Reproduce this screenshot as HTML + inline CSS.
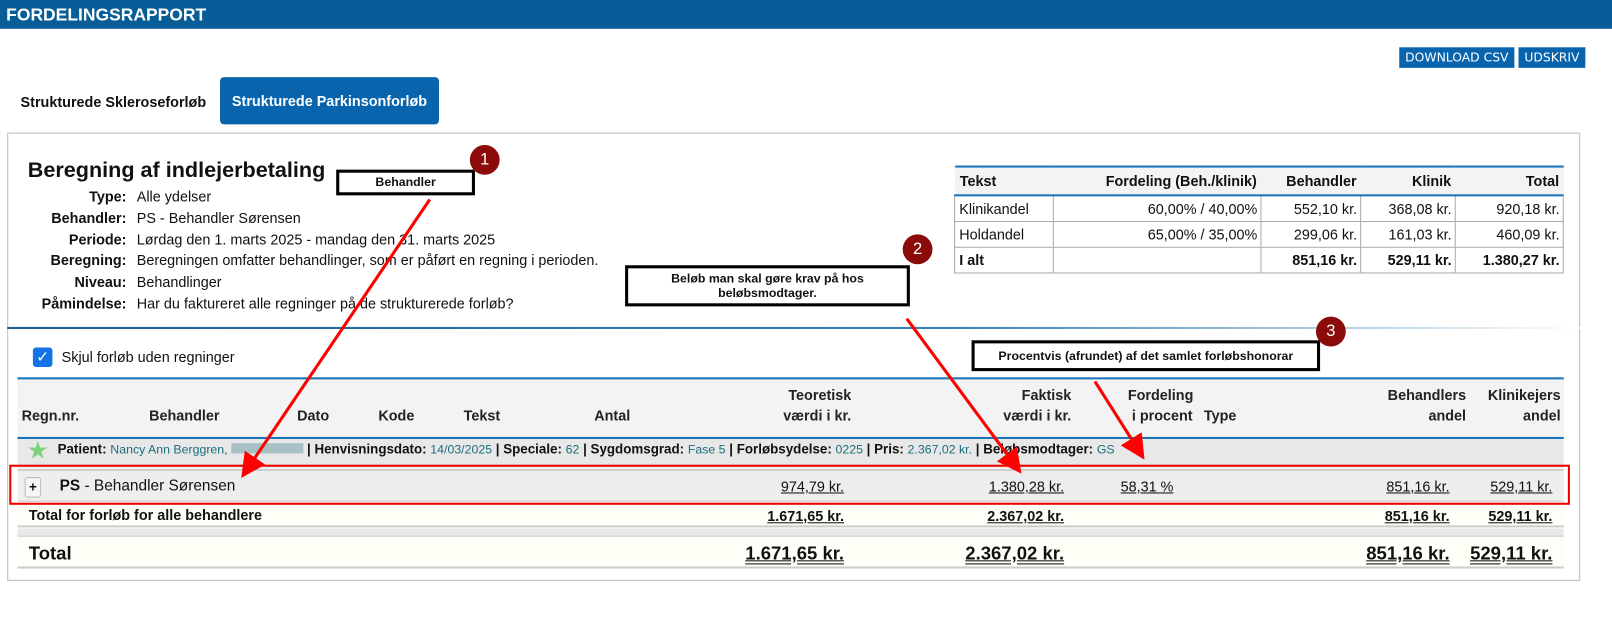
<!DOCTYPE html>
<html><head><meta charset="utf-8"><style>
*{margin:0;padding:0;box-sizing:border-box}
body{width:1612px;height:606px;position:relative;background:#fff;font-family:"Liberation Sans Narrow","Liberation Sans",sans-serif;color:#111;overflow:hidden}
#w{position:absolute;left:0;top:0;width:1612px;height:606px;transform:scale(1.0281);transform-origin:0 0}
.a{position:absolute;white-space:nowrap}
.r{text-align:right}
.b{font-weight:bold}
.u{text-decoration:underline}
.uu{text-decoration:underline double}
.t{color:#1a6e7a}
table{border-collapse:collapse}
</style></head><body><div id="w">
<div class="a" style="left:0;top:0;width:1612px;height:28px;background:#075d97"></div>
<div class="a b" style="left:6px;top:5px;color:#fff;font-size:17px">FORDELINGSRAPPORT</div>
<div class="a" style="left:1361px;top:46px;width:112px;height:20px;background:#0864ac;color:#fff;font-family:'DejaVu Sans',sans-serif;font-size:12px;line-height:20px;text-align:center">DOWNLOAD CSV</div>
<div class="a" style="left:1477px;top:46px;width:65px;height:20px;background:#0864ac;color:#fff;font-family:'DejaVu Sans',sans-serif;font-size:12px;line-height:20px;text-align:center">UDSKRIV</div>
<div class="a b" style="left:20px;top:91px;font-size:14px">Strukturede Skleroseforløb</div>
<div class="a b" style="left:214px;top:75px;width:213px;height:46px;background:#0864ac;border-radius:4px;color:#fff;font-size:14px;line-height:46px;text-align:center">Strukturede Parkinsonforløb</div>
<div class="a" style="left:7px;top:129px;width:1530px;height:436px;border:1px solid #bbb"></div>

<div class="a b" style="left:27px;top:154px;font-size:21px">Beregning af indlejerbetaling</div>
<div class="a r b" style="left:20px;top:181px;width:103px;font-size:14px;line-height:20.8px">Type:<br>Behandler:<br>Periode:<br>Beregning:<br>Niveau:<br>Påmindelse:</div>
<div class="a" style="left:133px;top:181px;font-size:14px;line-height:20.8px">Alle ydelser<br>PS - Behandler Sørensen<br>Lørdag den 1. marts 2025 - mandag den 31. marts 2025<br>Beregningen omfatter behandlinger, som er påført en regning i perioden.<br>Behandlinger<br>Har du faktureret alle regninger på de strukturerede forløb?</div>

<table class="a" style="left:928px;top:161px;width:593px;font-size:14px;border-top:2px solid #1a75bb">
<tr style="background:#f3f3f3;height:28px;border-bottom:2px solid #1a75bb" class="b"><td style="width:96px;padding-left:5px">Tekst</td><td class="r" style="width:202px;padding-right:4px">Fordeling (Beh./klinik)</td><td class="r" style="width:97px;padding-right:4px">Behandler</td><td class="r" style="width:92px;padding-right:4px">Klinik</td><td class="r" style="padding-right:4px">Total</td></tr>
<tr style="height:25px"><td style="border:1px solid #aaa;padding-left:4px">Klinikandel</td><td class="r" style="border:1px solid #aaa;padding-right:3px">60,00% / 40,00%</td><td class="r" style="border:1px solid #aaa;padding-right:3px">552,10 kr.</td><td class="r" style="border:1px solid #aaa;padding-right:3px">368,08 kr.</td><td class="r" style="border:1px solid #aaa;padding-right:3px">920,18 kr.</td></tr>
<tr style="height:25px"><td style="border:1px solid #aaa;padding-left:4px">Holdandel</td><td class="r" style="border:1px solid #aaa;padding-right:3px">65,00% / 35,00%</td><td class="r" style="border:1px solid #aaa;padding-right:3px">299,06 kr.</td><td class="r" style="border:1px solid #aaa;padding-right:3px">161,03 kr.</td><td class="r" style="border:1px solid #aaa;padding-right:3px">460,09 kr.</td></tr>
<tr style="height:25px" class="b"><td style="border:1px solid #aaa;padding-left:4px">I alt</td><td style="border:1px solid #aaa"></td><td class="r" style="border:1px solid #aaa;padding-right:3px">851,16 kr.</td><td class="r" style="border:1px solid #aaa;padding-right:3px">529,11 kr.</td><td class="r" style="border:1px solid #aaa;padding-right:3px">1.380,27 kr.</td></tr>
</table>

<div class="a" style="left:7px;top:318px;width:1530px;height:2px;background:linear-gradient(to right,#1d5f94,#3a80b5 60%,#fff)"></div>
<div class="a" style="left:32px;top:338px;width:19px;height:19px;background:#1473e6;border-radius:3px;color:#fff;font-size:15px;line-height:19px;text-align:center;font-family:'DejaVu Sans',sans-serif">✓</div>
<div class="a" style="left:60px;top:339px;font-size:14px">Skjul forløb uden regninger</div>

<div class="a" style="left:17px;top:367px;width:1504px;height:60px;background:#f3f3f3;border-top:2px solid #1a75bb;border-bottom:2px solid #1a75bb"></div>
<div class="a b" style="left:0;top:374px;width:1612px;font-size:14px;line-height:20px;color:#222">
<div class="a" style="left:21px;top:20px">Regn.nr.</div>
<div class="a" style="left:145px;top:20px">Behandler</div>
<div class="a" style="left:289px;top:20px">Dato</div>
<div class="a" style="left:368px;top:20px">Kode</div>
<div class="a" style="left:451px;top:20px">Tekst</div>
<div class="a" style="left:578px;top:20px">Antal</div>
<div class="a r" style="left:628px;width:200px;top:0">Teoretisk<br>værdi i kr.</div>
<div class="a r" style="left:842px;width:200px;top:0">Faktisk<br>værdi i kr.</div>
<div class="a" style="left:1097px;top:0">Fordeling<br>&nbsp;i procent</div>
<div class="a" style="left:1171px;top:20px">Type</div>
<div class="a r" style="left:1226px;width:200px;top:0">Behandlers<br>andel</div>
<div class="a r" style="left:1318px;width:200px;top:0">Klinikejers<br>andel</div>
</div>
<div class="a" style="left:17px;top:427px;width:1504px;height:28px;background:#e8e8e8"></div>
<div class="a" style="left:26px;top:424px;color:#7ed27e;font-size:24px;font-family:'DejaVu Sans',sans-serif">★</div>
<div class="a b" style="left:56px;top:429px;font-size:13px;line-height:16px">Patient: <span class="t" style="font-weight:normal;font-size:12px">Nancy Ann Berggren,</span> <span style="display:inline-block;width:70px;height:10px;background:#a8c0c4"></span> | Henvisningsdato: <span class="t" style="font-weight:normal;font-size:12px">14/03/2025</span> | Speciale: <span class="t" style="font-weight:normal;font-size:12px">62</span> | Sygdomsgrad: <span class="t" style="font-weight:normal;font-size:12px">Fase 5</span> | Forløbsydelse: <span class="t" style="font-weight:normal;font-size:12px">0225</span> | Pris: <span class="t" style="font-weight:normal;font-size:12px">2.367,02 kr.</span> | Beløbsmodtager: <span class="t" style="font-weight:normal;font-size:12px">GS</span></div>
<div class="a" style="left:17px;top:456px;width:1504px;height:32px;background:#eee;border-top:2px solid #ccc;border-bottom:1px solid #ccc"></div>
<div class="a b" style="left:24px;top:464px;width:16px;height:20px;border:1px solid #bbb;border-radius:3px;background:#f6f6f6;font-size:13px;text-align:center;line-height:18px">+</div>
<div class="a" style="left:58px;top:464px;font-size:15px"><b>PS</b> - Behandler Sørensen</div>
<div class="a r u" style="left:621px;width:200px;top:465px;font-size:14px">974,79 kr.</div>
<div class="a r u" style="left:835px;width:200px;top:465px;font-size:14px">1.380,28 kr.</div>
<div class="a u" style="left:1090px;top:465px;font-size:14px">58,31 %</div>
<div class="a r u" style="left:1210px;width:200px;top:465px;font-size:14px">851,16 kr.</div>
<div class="a r u" style="left:1310px;width:200px;top:465px;font-size:14px">529,11 kr.</div>
<div class="a" style="left:17px;top:489px;width:1504px;height:24px;background:#fffef6;border-bottom:2px solid #ccc"></div>
<div class="a b" style="left:28px;top:493px;font-size:14px">Total for forløb for alle behandlere</div>
<div class="a r u b" style="left:621px;width:200px;top:494px;font-size:14px">1.671,65 kr.</div>
<div class="a r u b" style="left:835px;width:200px;top:494px;font-size:14px">2.367,02 kr.</div>
<div class="a r u b" style="left:1210px;width:200px;top:494px;font-size:14px">851,16 kr.</div>
<div class="a r u b" style="left:1310px;width:200px;top:494px;font-size:14px">529,11 kr.</div>
<div class="a" style="left:17px;top:514px;width:1504px;height:8px;background:#e8e8e8;border-bottom:1px solid #ccc"></div>
<div class="a" style="left:17px;top:523px;width:1504px;height:30px;background:#fffef6;border-bottom:2px solid #ccc"></div>
<div class="a b" style="left:28px;top:528px;font-size:18px">Total</div>
<div class="a r uu b" style="left:621px;width:200px;top:528px;font-size:18px">1.671,65 kr.</div>
<div class="a r uu b" style="left:835px;width:200px;top:528px;font-size:18px">2.367,02 kr.</div>
<div class="a r uu b" style="left:1210px;width:200px;top:528px;font-size:18px">851,16 kr.</div>
<div class="a r uu b" style="left:1310px;width:200px;top:528px;font-size:18px">529,11 kr.</div>

<div class="a" style="left:9px;top:452px;width:1518px;height:39px;border:2px solid #e00"></div>

<div class="a b" style="left:327px;top:165px;width:135px;height:25px;border:3px solid #000;background:#fff;font-size:12px;text-align:center;line-height:19px">Behandler</div>
<div class="a b" style="left:608px;top:258px;width:277px;height:40px;border:3px solid #000;background:#fff;font-size:12px;text-align:center;line-height:14px;padding-top:3px">Beløb man skal gøre krav på hos<br>beløbsmodtager.</div>
<div class="a b" style="left:945px;top:331px;width:339px;height:30px;border:3px solid #000;background:#fff;font-size:12px;text-align:center;line-height:24px">Procentvis (afrundet) af det samlet forløbshonorar</div>
<div class="a" style="left:457px;top:141px;width:29px;height:29px;border-radius:50%;background:#8b0a0a;color:#fff;font-size:16px;text-align:center;line-height:29px">1</div>
<div class="a" style="left:878px;top:228px;width:29px;height:29px;border-radius:50%;background:#8b0a0a;color:#fff;font-size:16px;text-align:center;line-height:29px">2</div>
<div class="a" style="left:1280px;top:308px;width:29px;height:29px;border-radius:50%;background:#8b0a0a;color:#fff;font-size:16px;text-align:center;line-height:29px">3</div>
<svg class="a" style="left:0;top:0" width="1612" height="606">
<defs><marker id="m" markerWidth="8" markerHeight="8" refX="6" refY="4" orient="auto" markerUnits="strokeWidth"><path d="M0,0L8,4L0,8z" fill="#f00"/></marker></defs>
<g stroke="#f00" stroke-width="3" fill="none">
<line x1="418" y1="194" x2="238" y2="460" marker-end="url(#m)"/>
<line x1="882" y1="310" x2="990" y2="456" marker-end="url(#m)"/>
<line x1="1065" y1="371" x2="1110" y2="442" marker-end="url(#m)"/>
</g></svg>
</div></body></html>
